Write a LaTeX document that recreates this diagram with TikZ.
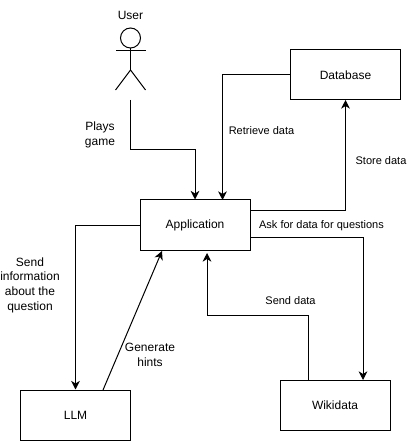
\documentclass[tikz,border=0pt]{standalone}
\usepackage{fontspec}
\setmainfont{Liberation Sans}
\usetikzlibrary{arrows.meta}
\tikzset{
    block/.style={draw, minimum width=82.5pt, minimum height=37.5pt, inner sep=0pt, font=\fontsize{9}{10.5}\selectfont},
    lbl/.style={align=center, inner sep=0pt, font=\fontsize{9}{11}\selectfont},
    lblsmall/.style={inner sep=0pt, font=\fontsize{8.25}{10}\selectfont},
    flow/.style={-{Stealth[length=6.5pt, width=6.5pt, inset=2pt]}, line width=0.75pt}
}
\begin{document}
\begin{tikzpicture}[x=0.75pt, y=-0.75pt, line width=0.75pt]
    \useasboundingbox (0, 0) rectangle (406, 441);

    \node[block] (DB) at (345.5, 75) {Database};
    \node[block] (APP) at (195, 225) {Application};
    \node[block] (LLM) at (75.5, 415) {LLM};
    \node[block] (WD) at (335, 405) {Wikidata};

    % actor
    \node[lbl] (USER) at (130.5, 15) {User};
    \node[draw, circle, minimum size=15pt, inner sep=0pt] (HEAD) at (130.5, 38) {};
    \coordinate (NECK) at (130.5, 70);
    \coordinate (FOOT) at (130.5, 100);
    \draw (HEAD) -- (NECK);
    \draw (116, 50.5) -- (146, 50.5);
    \draw (115.5, 90) -- (NECK) -- (145.5, 90);

    \coordinate (APPtop) at (APP.north);
    \coordinate (APPretr) at (222.5, 200);
    \coordinate (DBstore) at (345.5, 100);
    \coordinate (APPstore) at (250, 210);
    \coordinate (APPask) at (250, 237.5);
    \coordinate (WDask) at (363, 380);
    \coordinate (WDsend) at (308, 380);
    \coordinate (APPsend) at (207, 253);
    \coordinate (LLMhint) at (103, 390);
    \coordinate (APPhint) at (162, 251);

    \draw[flow] (FOOT) -- (130.5, 150) -| (APPtop);
    \draw[flow] (DB.west) -| (APPretr);
    \draw[flow] (APPstore) -| (DBstore);
    \draw[flow] (APPask) -| (WDask);
    \draw[flow] (WDsend) -- (308, 315) -| (APPsend);
    \draw[flow] (APP.west) -| (LLM.north);
    \draw[flow] (LLMhint) -- (APPhint);

    \node[lbl] (PLAYS) at (100, 135) {Plays\\game};
    \node[lblsmall] (RETR) at (261.5, 131) {Retrieve data};
    \node[lblsmall] (STORE) at (381, 161) {Store data};
    \node[lblsmall] (ASK) at (321.5, 226) {Ask for data for questions};
    \node[lblsmall] (SENDD) at (290.5, 301) {Send data};
    \node[lbl] (INFO) at (30, 285) {Send\\information\\about the\\question};
    \node[lbl] (HINTS) at (150, 355) {Generate\\hints};
\end{tikzpicture}
\end{document}
